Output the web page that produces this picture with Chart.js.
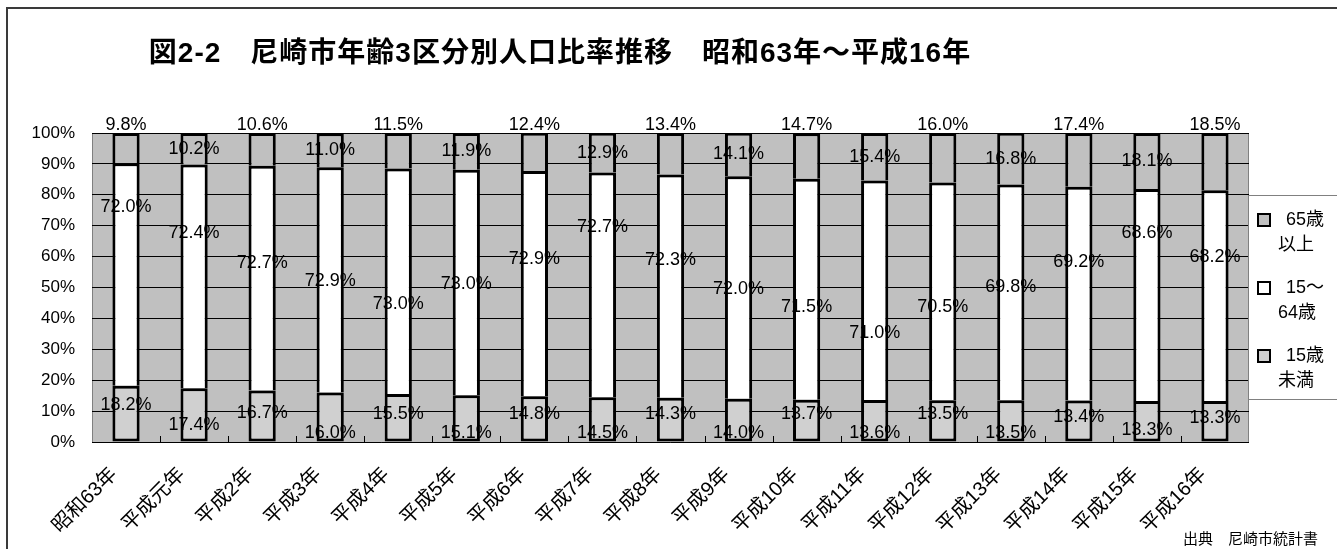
<!DOCTYPE html>
<html>
<head>
<meta charset="utf-8">
<script src="https://cdn.jsdelivr.net/npm/chart.js@4/dist/chart.umd.min.js"></script>
<style>
html, body { margin: 0; padding: 0; background: #fff; }
</style>
</head>
<body>
<canvas id="popChart" width="1337" height="549"></canvas>
<script>
var FONT = '"Liberation Sans", Arial, "Noto Sans CJK JP", sans-serif';

// 年次
var years = ["昭和63年","平成元年","平成2年","平成3年","平成4年","平成5年","平成6年","平成7年","平成8年",
             "平成9年","平成10年","平成11年","平成12年","平成13年","平成14年","平成15年","平成16年"];
// 年齢3区分 (%)
var under15 = [18.2,17.4,16.7,16.0,15.5,15.1,14.8,14.5,14.3,14.0,13.7,13.6,13.5,13.5,13.4,13.3,13.3];
var age15to64 = [72.0,72.4,72.7,72.9,73.0,73.0,72.9,72.7,72.3,72.0,71.5,71.0,70.5,69.8,69.2,68.6,68.2];
var over65 = [9.8,10.2,10.6,11.0,11.5,11.9,12.4,12.9,13.4,14.1,14.7,15.4,16.0,16.8,17.4,18.1,18.5];
var seriesNames = ["15歳未満","15～64歳","65歳以上"];
var legendLines = [["15歳","未満"],["15～","64歳"],["65歳","以上"]];

// where the labels were dragged to in the original (value-axis %)
var lowLabelAt = [12.0,5.5,9.4,3.0,9.1,3.0,9.1,3.0,9.1,3.0,9.1,3.0,9.1,3.0,8.1,3.9,7.8];
var midLabelAt = [76.1,67.6,57.9,52.1,44.7,51.1,59.2,69.6,58.9,49.5,43.7,35.3,43.7,50.2,58.3,67.6,59.9];

function pct(v) { return v.toFixed(1) + "%"; }

var framePlugin = {
    id: "frame",
    beforeDraw: function (chart) {
        var ctx = chart.ctx, a = chart.chartArea;
        ctx.save();
        ctx.fillStyle = "#fff";
        ctx.fillRect(0, 0, chart.width, chart.height);
        // outer frame (top + left)
        ctx.strokeStyle = "#3a3a3a";
        ctx.lineWidth = 2;
        ctx.beginPath();
        ctx.moveTo(chart.width, 8);
        ctx.lineTo(7, 8);
        ctx.lineTo(7, chart.height);
        ctx.stroke();
        // plot area
        ctx.fillStyle = "#c0c0c0";
        ctx.fillRect(a.left, a.top, a.right - a.left, a.bottom - a.top);
        ctx.strokeStyle = "#808080";
        ctx.lineWidth = 1;
        ctx.strokeRect(a.left + 0.5, a.top + 0.5, a.right - a.left - 1, a.bottom - a.top);
        // title
        ctx.fillStyle = "#000";
        ctx.font = "bold 28px " + FONT;
        ctx.letterSpacing = "1px";
        ctx.textAlign = "center";
        ctx.textBaseline = "middle";
        ctx.fillText("図2-2　尼崎市年齢3区分別人口比率推移　昭和63年～平成16年", 560, 54);
        ctx.restore();
    },
    afterDraw: function (chart) {
        var ctx = chart.ctx, a = chart.chartArea, x = chart.scales.x;
        ctx.save();
        // inward category ticks on the base line
        ctx.strokeStyle = "#000";
        ctx.lineWidth = 1;
        for (var i = 1; i < years.length; i++) {
            var bx = Math.round((x.getPixelForTick(i - 1) + x.getPixelForTick(i)) / 2) + 0.5;
            ctx.beginPath();
            ctx.moveTo(bx, a.bottom);
            ctx.lineTo(bx, a.bottom - 6);
            ctx.stroke();
        }
        // legend
        var lx = a.right - 1, ly = a.top + 62, lh = 204;
        ctx.fillStyle = "#fff";
        ctx.fillRect(lx, ly, chart.width - lx + 5, lh);
        ctx.strokeStyle = "#808080";
        ctx.strokeRect(lx + 0.5, ly + 0.5, chart.width - lx + 5, lh);
        ctx.font = "18px " + FONT;
        ctx.textAlign = "left";
        ctx.textBaseline = "middle";
        var order = [2, 1, 0];
        for (var k = 0; k < order.length; k++) {
            var ds = chart.data.datasets[order[k]];
            var cy = ly + 25 + k * 68;
            ctx.fillStyle = ds.backgroundColor;
            ctx.fillRect(lx + 10, cy - 6, 12, 12);
            ctx.strokeStyle = "#000";
            ctx.lineWidth = 2;
            ctx.strokeRect(lx + 10, cy - 6, 12, 12);
            ctx.fillStyle = "#000";
            ctx.fillText(legendLines[order[k]][0], lx + 38, cy);
            ctx.fillText(legendLines[order[k]][1], lx + 30, cy + 25);
        }
        // source
        ctx.font = "15px " + FONT;
        ctx.fillText("出典　尼崎市統計書", 1183, 540);
        ctx.restore();
    }
};

var labelPlugin = {
    id: "segLabels",
    afterDatasetsDraw: function (chart) {
        var ctx = chart.ctx, y = chart.scales.y, a = chart.chartArea;
        ctx.save();
        ctx.font = "18px " + FONT;
        ctx.fillStyle = "#000";
        ctx.textAlign = "center";
        ctx.textBaseline = "middle";
        chart.getDatasetMeta(0).data.forEach(function (bar, i) {
            ctx.fillText(pct(under15[i]), bar.x, y.getPixelForValue(lowLabelAt[i]));
        });
        chart.getDatasetMeta(1).data.forEach(function (bar, i) {
            ctx.fillText(pct(age15to64[i]), bar.x, y.getPixelForValue(midLabelAt[i]));
        });
        chart.getDatasetMeta(2).data.forEach(function (bar, i) {
            var ty = (i % 2 == 0) ? a.top - 8 : (bar.y + bar.base) / 2;
            ctx.fillText(pct(over65[i]), bar.x, ty);
        });
        ctx.restore();
    }
};

var barCommon = { borderColor: "#000", borderWidth: 3, barPercentage: 0.4, categoryPercentage: 1.0 };

new Chart(document.getElementById("popChart"), {
    type: "bar",
    data: {
        labels: years,
        datasets: [
            Object.assign({ label: seriesNames[0], data: under15, backgroundColor: "#d0d0d0", borderSkipped: false }, barCommon),
            Object.assign({ label: seriesNames[1], data: age15to64, backgroundColor: "#ffffff", borderSkipped: "start" }, barCommon),
            Object.assign({ label: seriesNames[2], data: over65, backgroundColor: "#c0c0c0", borderSkipped: "start" }, barCommon)
        ]
    },
    options: {
        responsive: false,
        animation: false,
        layout: { padding: { top: 133, right: 88, left: 0, bottom: 0 } },
        plugins: { legend: { display: false }, title: { display: false }, tooltip: { enabled: false } },
        scales: {
            x: {
                stacked: true,
                grid: { display: false },
                border: { display: false },
                ticks: { autoSkip: false, maxRotation: 45, minRotation: 45, color: "#000", padding: 13,
                         labelOffset: -12, font: { size: 20, family: FONT } },
                afterFit: function (s) { s.height = 107; }
            },
            y: {
                stacked: true, min: 0, max: 100,
                grid: { color: "#000", lineWidth: 1, drawTicks: false },
                border: { display: false },
                ticks: { stepSize: 10, padding: 17, color: "#000", font: { size: 17, family: FONT },
                         callback: function (v) { return v + "%"; } },
                afterFit: function (s) { s.width = 92; }
            }
        }
    },
    plugins: [framePlugin, labelPlugin]
});
</script>
</body>
</html>
